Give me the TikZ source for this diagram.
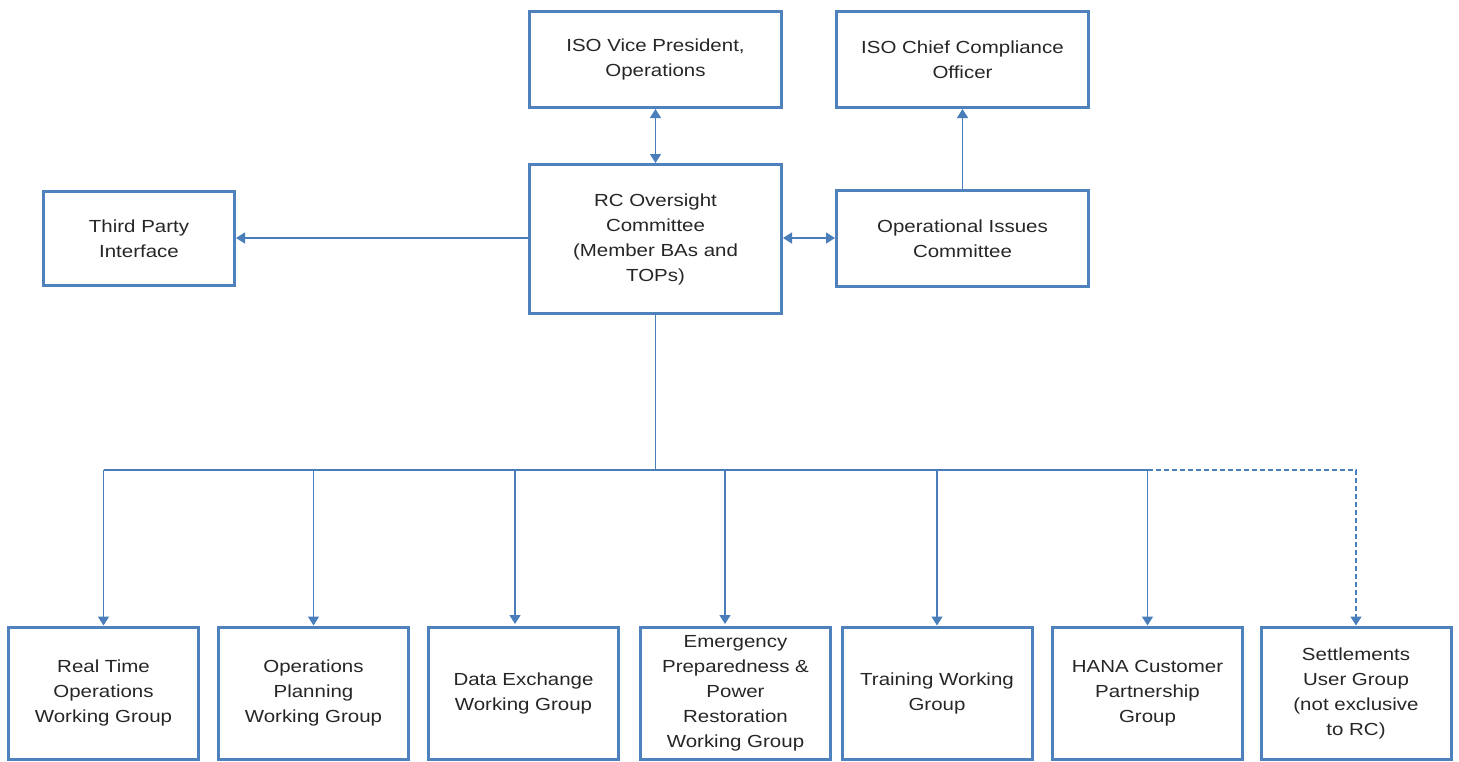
\documentclass[tikz,border=0pt]{standalone}
\usepackage{fontspec}
\setmainfont{Liberation Sans}[FakeStretch=1.17]
\usetikzlibrary{arrows.meta,calc}
\definecolor{boxblue}{HTML}{4F81BD}
\definecolor{lineblue}{HTML}{4A7EBB}
\begin{document}
\begin{tikzpicture}[x=1pt,y=-1pt,
  box/.style={draw=boxblue,line width=3pt,rectangle,inner sep=0pt,align=center,
    font=\fontsize{17.5}{25}\selectfont,text=black!85},
  topbox/.style={box,minimum width=252pt,minimum height=96pt},
  wbox/.style={box,minimum width=190pt,minimum height=132pt},
  conn/.style={draw=lineblue,line width=1.5pt},
  tip/.style={-{Triangle[width=11pt,length=9pt]}},
  dtip/.style={{Triangle[width=11pt,length=9pt]}-{Triangle[width=11pt,length=9pt]}}]
\useasboundingbox (0,0) rectangle (1459,761);
% top level
\node[topbox] (vp) at (655.5,59.5) {ISO Vice President,\\Operations};
\node[topbox] (cco) at (962.5,59.5) {ISO Chief Compliance\\Officer};
\node[box,minimum width=191pt,minimum height=94pt] (tpi) at (139,238.5) {Third Party\\Interface};
\node[box,minimum width=252pt,minimum height=149pt] (rc) at (655.5,239) {RC Oversight\\Committee\\(Member BAs and\\TOPs)};
\node[topbox] (oic) at (962.5,238.5) {Operational Issues\\Committee};
% working groups
\node[wbox] (b1) at (103.5,693) {Real Time\\Operations\\Working Group};
\node[wbox] (b2) at (313.5,693) {Operations\\Planning\\Working Group};
\node[wbox] (b3) at (523.5,693) {Data Exchange\\Working Group};
\node[wbox] (b4) at (735.5,693) {Emergency\\Preparedness \&\\Power\\Restoration\\Working Group};
\node[wbox] (b5) at (937,693) {Training Working\\Group};
\node[wbox] (b6) at (1147.5,693) {HANA Customer\\Partnership\\Group};
\node[wbox] (b7) at (1356,693) {Settlements\\User Group\\(not exclusive\\to RC)};
% connectors top
\draw[conn,dtip] (vp.south) -- (rc.north);
\draw[conn,tip] (rc.west |- 0,238) -- (tpi.east |- 0,238);
\draw[conn,dtip] (rc.east |- 0,238) -- (oic.west |- 0,238);
\draw[conn,tip] (oic.north) -- (cco.south);
% bus
\coordinate (bus) at (655.5,470);
\coordinate (a1) at (b1.north);
\coordinate (a2) at (b2.north);
\coordinate (a3) at (515,624);
\coordinate (a4) at (725,624);
\coordinate (a5) at (b5.north);
\coordinate (a6) at (b6.north);
\coordinate (a7) at (b7.north);
\draw[conn] (rc.south) -- (bus);
\draw[conn] (bus -| a1) -- (bus -| a6);
\foreach \n in {1,...,6} {\draw[conn,tip] (bus -| a\n) -- (a\n);}
\draw[conn,tip,dash pattern=on 5pt off 3pt] (bus -| a6) -- (bus -| a7) -- (a7);
\end{tikzpicture}
\end{document}
